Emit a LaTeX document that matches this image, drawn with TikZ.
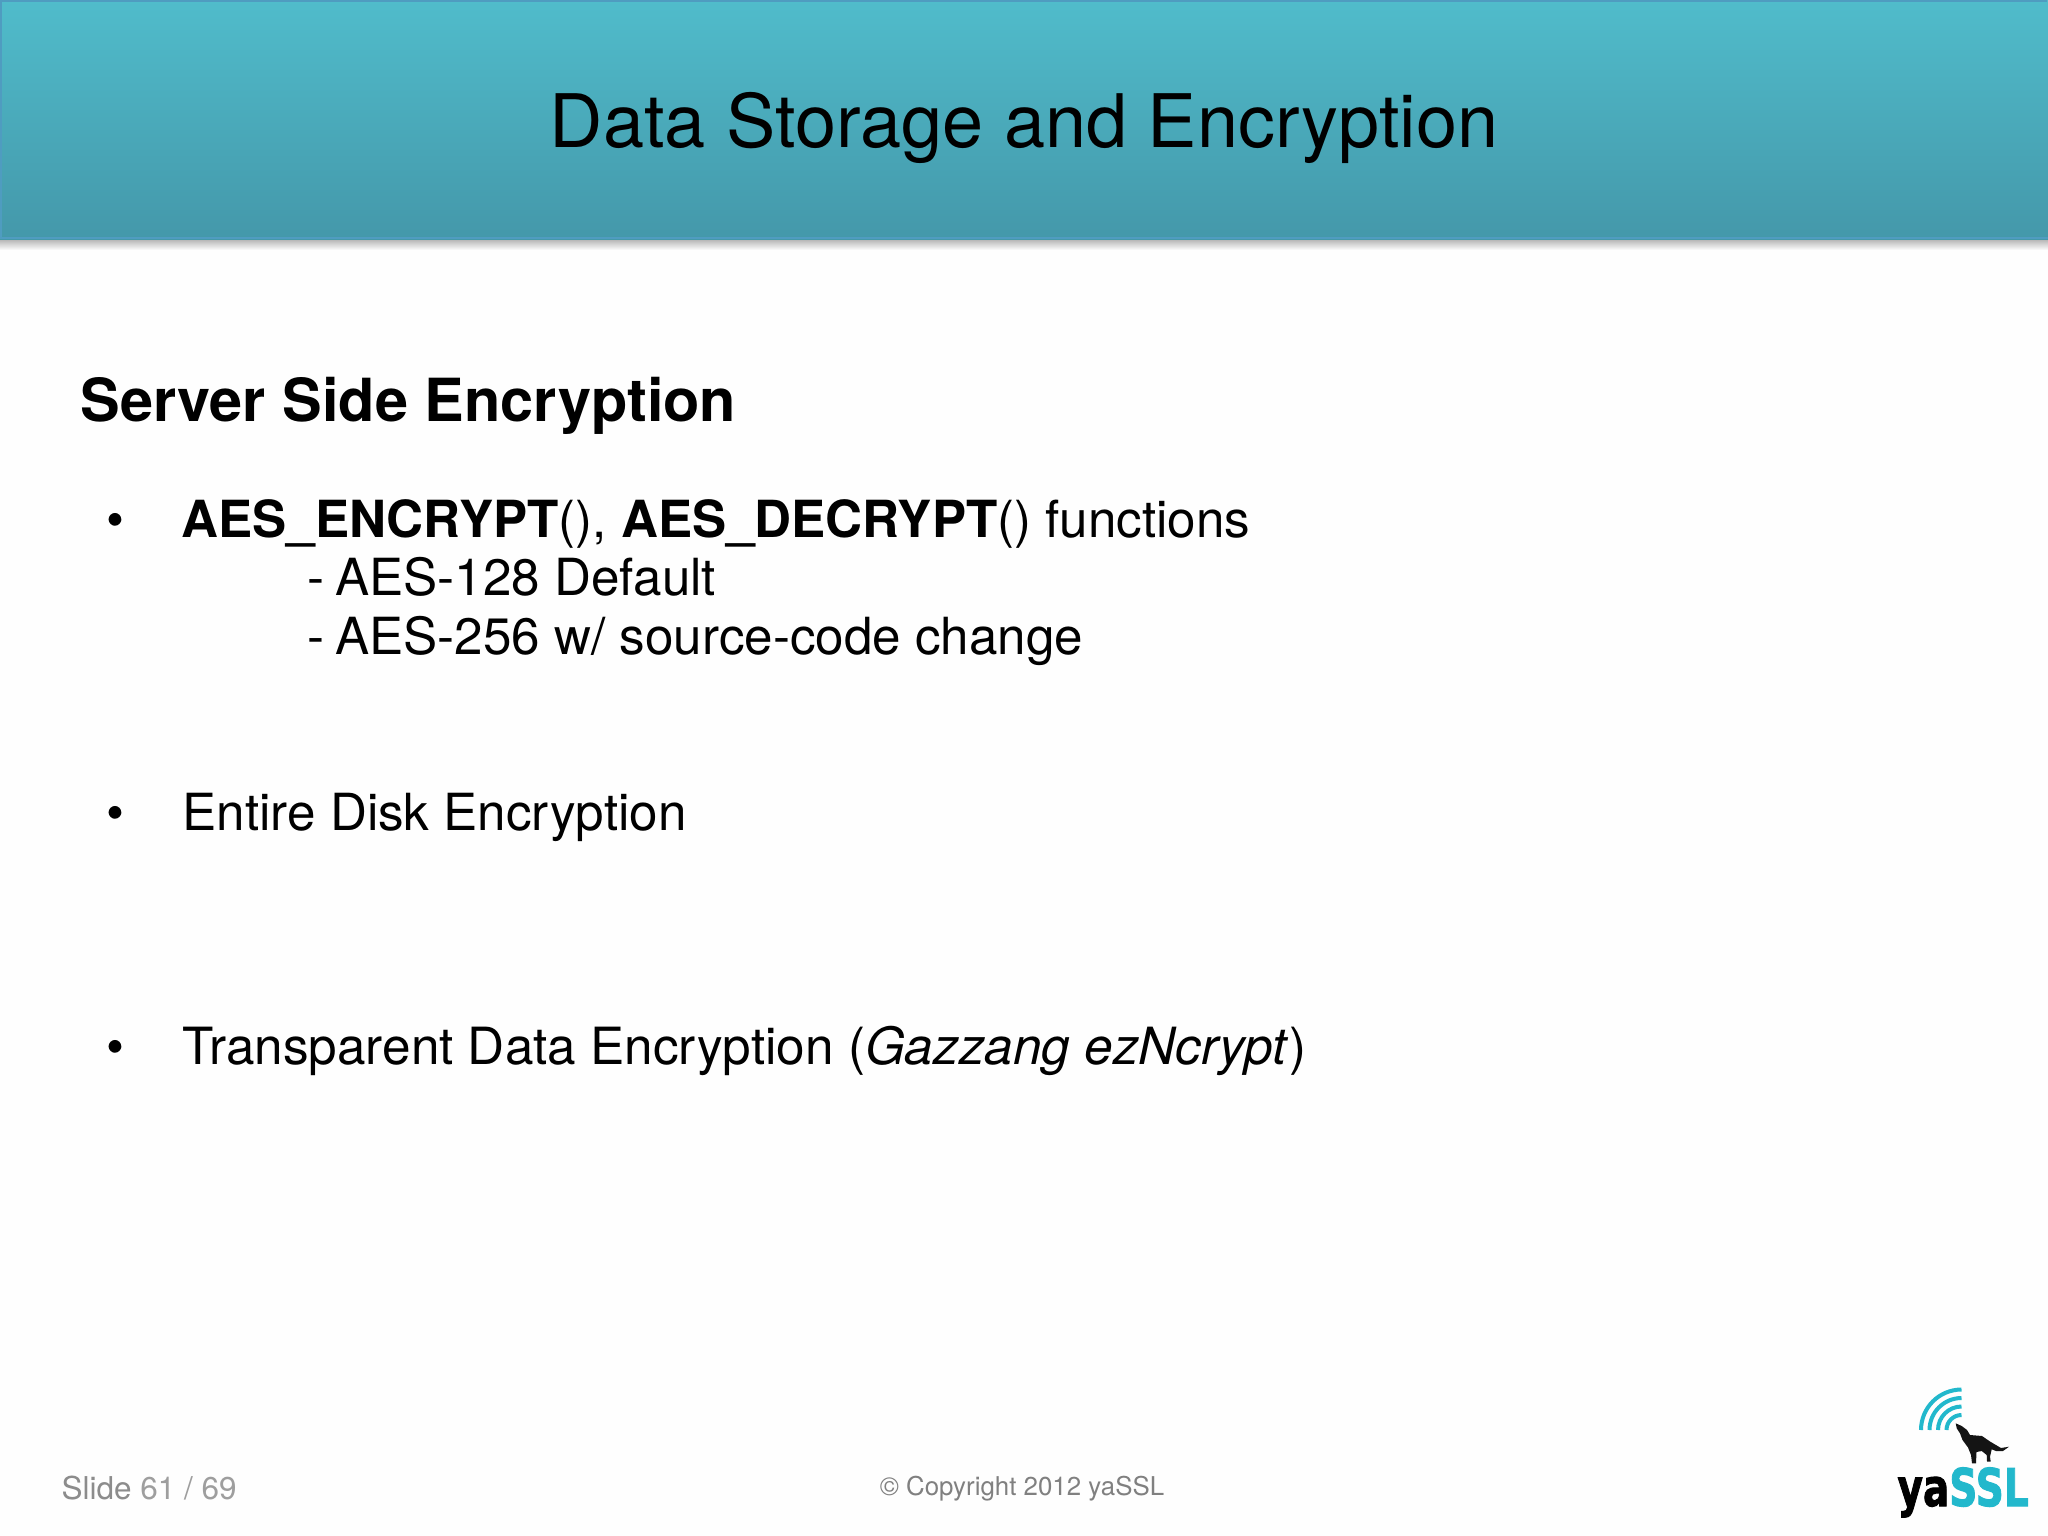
\documentclass[tikz,border=0pt]{standalone}
\usepackage{fontspec}
\setmainfont{TeX Gyre Heros}
\newfontfamily\logofont[FakeBold=2]{DejaVu Sans Bold}
\usetikzlibrary{calc}
\definecolor{headtop}{HTML}{50BCCB}
\definecolor{headbot}{HTML}{4498AA}
\definecolor{headedge}{HTML}{4F9CC0}
\definecolor{logoteal}{HTML}{22B8CC}
\definecolor{pagegrey}{HTML}{FEFEFE}
\tikzset{
  line/.style={anchor=base west,inner sep=0pt,font=\fontsize{14.55}{16}\selectfont,text=black}
}
\begin{document}
\begin{tikzpicture}[x=0.01cm,y=-0.01cm]
\useasboundingbox (0,0) rectangle (2048,1536);
\fill[pagegrey] (0,0) rectangle (2048,1536);
% header band
\shade[top color=gray!60,bottom color=pagegrey] (0,239) rectangle (2048,250);
\shade[top color=headtop,bottom color=headbot] (0,0) rectangle (2048,239);
\draw[headedge,line width=0.02cm] (1,239) -- (1,1) -- (2047,1);
\draw[headedge,line width=0.02cm] (0,238) -- (2048,238);
\node[anchor=base,inner sep=0pt,font=\fontsize{21}{24}\selectfont] (title) at (1024,147) {Data Storage and Encryption};
% body text
\node[line,font=\fontsize{16.9}{18}\selectfont\bfseries] (head) at (80,421) {Server Side Encryption};
\node[line] (fn) at (181,537) {\textbf{AES\_ENCRYPT}(), \textbf{AES\_DECRYPT}() functions};
\node[line] (fnA) at (307,595) {-\hspace{-1pt} AES-128 Default};
\node[line] (fnB) at (307,654) {-\hspace{-1pt} AES-256 w/ source-code change};
\node[line] (disk) at (182,830) {Entire Disk Encryption};
\node[line,font=\fontsize{14.58}{16}\selectfont] (tde) at (182,1064) {Transparent Data Encryption (\textit{Gazzang ezNcrypt})};
\foreach \y/\n in {537/a,830/b,1064/c} {
  \node[line] (dot_\n) at (106,\y) {•};
}
% footer
\node[line,font=\fontsize{8.95}{11}\selectfont,text=black!45] (slide) at (61,1499) {Slide \textcolor{black!38}{61 / 69}};
\node[anchor=base,inner sep=0pt,font=\fontsize{7.36}{10}\selectfont,text=black!50] (copy) at (1022,1495) {© Copyright 2012 yaSSL};
% logo
\foreach \r in {15,23.5,32,40.5} {
  \draw[logoteal,line width=0.04cm] (1961.5,1430) ++(180:\r) arc[start angle=180,end angle=270,radius=\r];
}
\fill[black!92] (1955.7,1423.3) -- (1961.7,1426) -- (1967,1430) -- (1970,1435) -- (1982,1436) -- (1990,1441.5) -- (2001,1448) -- (2009,1446.7) -- (2003,1451) -- (1996,1451) -- (1991.7,1449.3) -- (1990,1456.7) -- (1990.7,1461.7) -- (1987,1461.7) -- (1986.7,1455) -- (1981.7,1451) -- (1976.5,1452) -- (1976,1463.3) -- (1972,1463.3) -- (1971,1455) -- (1968,1447.5) -- (1962.5,1440) -- (1960,1433.3) -- (1956.7,1428.3) -- cycle;
\node[anchor=base west,inner sep=0pt,xscale=0.75,font=\logofont\fontsize{14.8}{17}\selectfont,text=black] (logo) at (1897,1506) {ya\textcolor{logoteal}{SSL}};
\end{tikzpicture}
\end{document}
